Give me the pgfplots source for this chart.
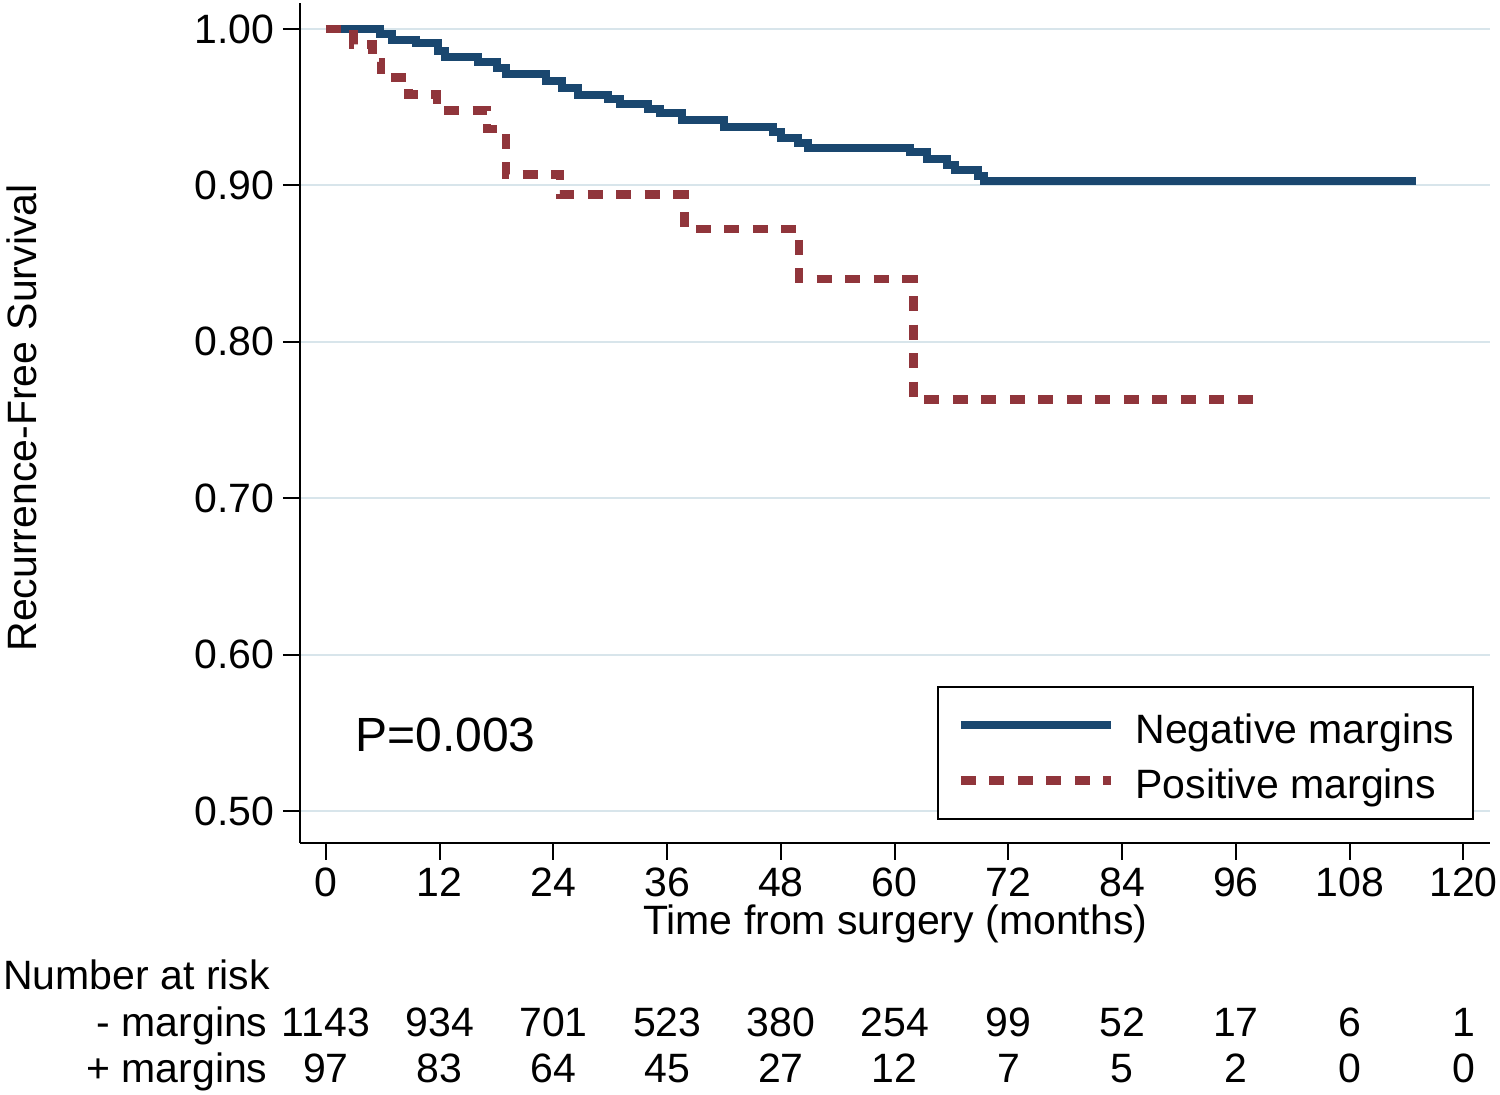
\documentclass[border=0pt]{standalone}
\usepackage{fontspec}
\setmainfont{Liberation Sans}
\usepackage{pgfplots}
\pgfplotsset{compat=1.18}

\definecolor{navyS}{RGB}{26,71,111}
\definecolor{maroonS}{RGB}{144,53,59}
\definecolor{gridS}{RGB}{216,229,235}

\begin{document}
\begin{tikzpicture}[font=\fontsize{16.4}{19.7}\selectfont]
\path[use as bounding box] (0,0) rectangle (600pt,438pt);
\begin{axis}[
at={(120pt,100.8pt)}, anchor=south west,
scale only axis, width=476pt, height=336pt,
xmin=-2.74, xmax=122.8, ymin=0.4795, ymax=1.0166,
axis lines=left,
axis line style={-, line width=1pt, black},
xtick={0,12,24,36,48,60,72,84,96,108,120},
ytick={0.5,0.6,0.7,0.8,0.9,1.0},
/pgf/number format/assume math mode=true,
yticklabel style={/pgf/number format/.cd, fixed, fixed zerofill, precision=2},
xticklabel style={yshift=0.4pt},
tick align=outside, major tick length=6.8pt,
tick style={line width=0.8pt, black},
ymajorgrids, grid style={gridS, line width=0.8pt},
clip=false,
legend cell align=left,
legend image code/.code={\draw[#1] (0pt,0pt) -- (60pt,0pt);},
legend style={at={(rel axis cs:0.9866,0.0274)}, anchor=south east,
  draw=black, line width=0.8pt, inner xsep=7.4pt, inner ysep=5pt,
  row sep=1.2pt, column sep=8.2pt,
  nodes={inner sep=0pt, text height=17.8pt, text depth=3pt}},
]
% negative margins
\addplot[const plot, navyS, line width=3.2pt] coordinates {
(0,1.000) (5.7,0.997) (7.0,0.993) (9.5,0.991) (11.8,0.986) (12.6,0.982)
(16.0,0.979) (18.0,0.975) (19.0,0.971) (23.2,0.967) (24.9,0.962)
(26.6,0.958) (29.8,0.955) (31.0,0.952) (34.0,0.949) (35.2,0.946)
(37.6,0.942) (42.0,0.937) (47.2,0.934) (48.0,0.930) (49.8,0.927)
(50.9,0.924) (61.6,0.921) (63.4,0.917) (65.5,0.913) (66.4,0.910)
(68.8,0.906) (69.4,0.903) (115.0,0.903)};
\addlegendentry{Negative margins}
% positive margins
\addplot[const plot, maroonS, line width=3.4pt, dash pattern=on 6pt off 5.4pt] coordinates {
(0,1.000) (2.9,0.990) (4.9,0.979) (5.8,0.969) (8.7,0.958) (11.7,0.948)
(17.0,0.936) (19.0,0.907) (24.7,0.894) (37.8,0.872) (49.9,0.840)
(62.0,0.763) (98.7,0.763)};
\addlegendentry{Positive margins}

\node[anchor=base west, inner sep=0pt, font=\fontsize{19.2}{23}\selectfont] at (axis cs:3.06,0.5377) {P=0.003};
\node[rotate=90, anchor=center] at (axis cs:-32.08,0.7513) {Recurrence-Free Survival};
\node[anchor=base] at (axis cs:60.05,0.4207) {Time from surgery (months)};

% number at risk
\node[anchor=base west, inner sep=0pt] at (axis cs:-34.09,0.38555) {Number at risk};
\node[anchor=base east, inner sep=0pt] at (axis cs:-6.12,0.35550) {- margins};
\node[anchor=base east, inner sep=0pt] at (axis cs:-6.12,0.32609) {+ margins};
\foreach \xm/\nr in {0/1143,12/934,24/701,36/523,48/380,60/254,72/99,84/52,96/17,108/6,120/1}
  {\edef\tmp{\noexpand\node[anchor=base] at (axis cs:\xm,0.35550) {\nr};}\tmp}
\foreach \xm/\nr in {0/97,12/83,24/64,36/45,48/27,60/12,72/7,84/5,96/2,108/0,120/0}
  {\edef\tmp{\noexpand\node[anchor=base] at (axis cs:\xm,0.32609) {\nr};}\tmp}
\end{axis}
\end{tikzpicture}
\end{document}
